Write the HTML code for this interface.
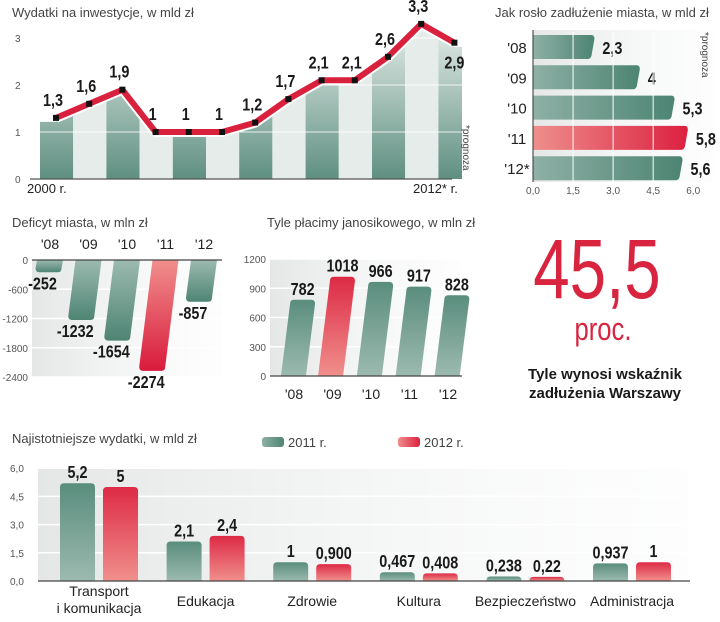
<!DOCTYPE html>
<html><head><meta charset="utf-8">
<style>
html,body{margin:0;padding:0;background:#fff;}
body{width:720px;height:622px;overflow:hidden;position:relative;font-family:"Liberation Sans",sans-serif;}
svg{position:absolute;left:0;top:0;}
text{font-family:"Liberation Sans",sans-serif;}
.t{font-size:13px;fill:#444;}
.tick{font-size:10px;fill:#555;}
.v{font-family:"Liberation Sans",sans-serif;font-weight:bold;font-size:18px;fill:#1a1a1a;}
.cat{font-size:14px;fill:#222;}
</style></head>
<body>
<svg id="s" width="720" height="622">
<defs>
<linearGradient id="gv" x1="0" y1="0" x2="0" y2="1"><stop offset="0" stop-color="#e9efed"/><stop offset="1" stop-color="#5e8f80"/></linearGradient>
<linearGradient id="gh" x1="0" y1="0" x2="1" y2="0"><stop offset="0" stop-color="#8fb0a6"/><stop offset="1" stop-color="#4c8472"/></linearGradient>
<linearGradient id="rh" x1="0" y1="0" x2="1" y2="0"><stop offset="0" stop-color="#ee8f8c"/><stop offset="1" stop-color="#dc2040"/></linearGradient>
<linearGradient id="gb" x1="0" y1="0" x2="0" y2="1"><stop offset="0" stop-color="#5a8d7d"/><stop offset="1" stop-color="#9cbab0"/></linearGradient>
<linearGradient id="rb" x1="0" y1="0" x2="0" y2="1"><stop offset="0" stop-color="#dd2a45"/><stop offset="1" stop-color="#f0908c"/></linearGradient>
<linearGradient id="gd" x1="0" y1="0" x2="0" y2="1"><stop offset="0" stop-color="#9cbab0"/><stop offset="1" stop-color="#4e8473"/></linearGradient>
<linearGradient id="rd" x1="0" y1="0" x2="0" y2="1"><stop offset="0" stop-color="#f08f8c"/><stop offset="1" stop-color="#d91a3c"/></linearGradient>
<linearGradient id="bg" x1="0" y1="0" x2="1" y2="0"><stop offset="0" stop-color="#e4e7e6"/><stop offset="1" stop-color="#f6f7f7" stop-opacity="0.2"/></linearGradient>
<clipPath id="areaClip"><polygon id="areaPoly" points=""/></clipPath>
</defs>
<g id="c1"></g><g id="c2"></g><g id="c3"></g><g id="c4"></g><g id="c5"></g>
<text transform="translate(597,298) scale(0.78,1)" text-anchor="middle" font-size="84" fill="#d9243f">45,5</text>
<text transform="translate(603,340) scale(0.8,1)" text-anchor="middle" font-size="32" fill="#d9243f">proc.</text>
<text x="605" y="379" text-anchor="middle" font-size="15" font-weight="bold" fill="#1a1a1a">Tyle wynosi wskaźnik</text>
<text x="605" y="398" text-anchor="middle" font-size="15" font-weight="bold" fill="#1a1a1a">zadłużenia Warszawy</text>
</svg>
<script>
const NS='http://www.w3.org/2000/svg';
function mk(p,tag,a,txt){const e=document.createElementNS(NS,tag);for(const k in a)e.setAttribute(k,a[k]);if(txt!==undefined)e.textContent=txt;p.appendChild(e);return e;}
function vt(p,x,y,anchor,txt,size){return mk(p,'text',{transform:`translate(${x},${y}) scale(0.8,1)`,'text-anchor':anchor,class:'v','font-size':size||18},txt);}

// Chart 1 data
const invValues=[1.3,1.6,1.9,1,1,1,1.2,1.7,2.1,2.1,2.6,3.3,2.9];
const invLabels=['1,3','1,6','1,9','1','1','1','1,2','1,7','2,1','2,1','2,6','3,3','2,9'];
const invTicks=[0,1,2,3];
// Chart 2 data
const debtCats=["'08","'09","'10","'11","'12*"];
const debtValues=[2.3,4,5.3,5.8,5.6];
const debtLabels=['2,3','4','5,3','5,8','5,6'];
const debtTicks=[0,1.5,3,4.5,6];
const debtTickLabels=['0,0','1,5','3,0','4,5','6,0'];
// Chart 3 data
const defCats=["'08","'09","'10","'11","'12"];
const defValues=[-252,-1232,-1654,-2274,-857];
const defTicks=[0,-600,-1200,-1800,-2400];
// Chart 4 data
const janCats=["'08","'09","'10","'11","'12"];
const janValues=[782,1018,966,917,828];
const janTicks=[0,300,600,900,1200];
// Chart 5 data
const expCats=[['Transport','i komunikacja'],['Edukacja'],['Zdrowie'],['Kultura'],['Bezpieczeństwo'],['Administracja']];
const exp2011=[5.2,2.1,1,0.467,0.238,0.937];
const exp2012=[5,2.4,0.9,0.408,0.22,1];
const exp2011Labels=['5,2','2,1','1','0,467','0,238','0,937'];
const exp2012Labels=['5','2,4','0,900','0,408','0,22','1'];
const expTicks=[0,1.5,3,4.5,6];
const expTickLabels=['0,0','1,5','3,0','4,5','6,0'];

// ---- Chart 1
(function(){
const g=document.getElementById('c1');
const x=i=>56+i*33.2, y=v=>179-v*47;
let t=mk(g,'text',{x:12,y:17,class:'t'},'Wydatki na inwestycje, w mld zł');


const pts=invValues.map((v,i)=>[x(i),y(v)]);
const poly=[[40,179],[40,y(invValues[0])+4],...pts.map(p=>[p[0],p[1]+4]),[462,y(invValues[12])+4],[462,179]];
document.getElementById('areaPoly').setAttribute('points',poly.map(p=>p.join(',')).join(' '));
const ag=mk(g,'g',{'clip-path':'url(#areaClip)'});
for(let i=0;i<13;i++){
  const r=mk(ag,'rect',{x:40+i*33.2,y:20,width:33.2,height:160,fill:i%2==0?'url(#gv)':'#e6ecea'});
  
  
}
invTicks.forEach(v=>{
  if(v>0){const l=mk(g,'line',{x1:40,x2:462,y1:y(v),y2:y(v),stroke:'#fff','stroke-width':1,opacity:0.8});
  }
  const tt=mk(g,'text',{x:15,y:y(v)+4,class:'tick'},String(v));
  
});
const ax=mk(g,'line',{x1:30,x2:452,y1:179,y2:179,stroke:'#555','stroke-width':1.2});

const ps=pts.map(p=>p.join(',')).join(' ');
const w=mk(g,'polyline',{points:ps,fill:'none',stroke:'#fff','stroke-width':10,'stroke-linejoin':'round'});

const l=mk(g,'polyline',{points:ps,fill:'none',stroke:'#d9203d','stroke-width':6,'stroke-linejoin':'round'});

pts.forEach((p,i)=>{
  const m=mk(g,'rect',{x:p[0]-3,y:p[1]-3,width:6,height:6,fill:'#111'});
  
  const ly=i==12?p[1]+26:p[1]-12;
  const lb=vt(g,p[0]+(i==12?0:-3),ly,'middle',invLabels[i],19);
  
});
t=mk(g,'text',{x:27,y:193,'font-size':13,fill:'#222'},'2000 r.');
t=mk(g,'text',{x:413,y:193,'font-size':13,fill:'#222'},'2012* r.');
t=mk(g,'text',{x:0,y:0,'font-size':10,fill:'#444',transform:'translate(463,125) rotate(90)'},'*prognoza');
})();

// ---- Chart 2
(function(){
const g=document.getElementById('c2');
const x=v=>533+v*26.7, yt=i=>35+i*30.3, h=24;
let t=mk(g,'text',{x:495,y:17,class:'t'},'Jak rosło zadłużenie miasta, w mld zł');

const bgr=mk(g,'rect',{x:533,y:30,width:180,height:152,fill:'url(#bg)'});

debtValues.forEach((v,i)=>{
  const y0=yt(i), x1=x(v);
  const b=mk(g,'path',{d:`M533,${y0} H${x1-3} Q${x1},${y0} ${x1},${y0+4} L${x1-3},${y0+h-3} Q${x1-4},${y0+h} ${x1-7},${y0+h} H533 Z`,fill:i==3?'url(#rh)':'url(#gh)'});
  
  const c=mk(g,'text',{x:517,y:y0+18,'text-anchor':'middle','font-size':15,fill:'#222'},debtCats[i]);
  
  const lb=vt(g,x1+8,y0+19,'start',debtLabels[i],19);
  
});
debtTicks.forEach((v,i)=>{
  if(v>0&&v<6){const l=mk(g,'line',{x1:x(v),x2:x(v),y1:32,y2:182,stroke:'#fff','stroke-width':1});
  }
  const tt=mk(g,'text',{x:x(v),y:194,'text-anchor':'middle',class:'tick'},debtTickLabels[i]);
  
});
const ax=mk(g,'line',{x1:533,x2:533,y1:30,y2:182,stroke:'#333','stroke-width':1});

t=mk(g,'text',{x:0,y:0,'font-size':10,fill:'#444',transform:'translate(702,32) rotate(90)'},'*prognoza');
})();

// ---- Chart 3
(function(){
const g=document.getElementById('c3');
const y=v=>260-v*(117/2400), xc=i=>50+i*38.5, w=26;
let t=mk(g,'text',{x:12,y:227,class:'t'},'Deficyt miasta, w mln zł');

const bgr=mk(g,'rect',{x:32,y:260,width:190,height:117,fill:'url(#bg)'});

defTicks.forEach(v=>{
  if(v<0){const l=mk(g,'line',{x1:32,x2:222,y1:y(v),y2:y(v),stroke:'#fff','stroke-width':1.5});
  }
  const tt=mk(g,'text',{x:28,y:y(v)+4,'text-anchor':'end',class:'tick'},String(v));
  
});
defValues.forEach((v,i)=>{
  const cx=xc(i), yb=y(v), hgt=yb-260, s=hgt*0.12;
  const b=mk(g,'path',{d:`M${cx-w/2},260 H${cx+w/2} L${cx+w/2-s},${yb-4} Q${cx+w/2-s},${yb} ${cx+w/2-s-4},${yb} H${cx-w/2-s+4} Q${cx-w/2-s},${yb} ${cx-w/2-s},${yb-4} Z`,fill:i==3?'url(#rd)':'url(#gd)'});
  
  const c=mk(g,'text',{x:cx,y:249,'text-anchor':'middle','font-size':14,fill:'#222'},defCats[i]);
  
  const lb=vt(g,cx-s-6,yb+17,'middle',String(v),19);
  
});
const ax=mk(g,'line',{x1:32,x2:222,y1:260,y2:260,stroke:'#444','stroke-width':1.2});

})();

// ---- Chart 4
(function(){
const g=document.getElementById('c4');
const y=v=>376-v*(117/1200), xc=i=>298+i*38.5, w=25;
let t=mk(g,'text',{x:267,y:227,class:'t'},'Tyle płacimy janosikowego, w mln zł');

const bgr=mk(g,'rect',{x:270,y:259,width:190,height:117,fill:'url(#bg)'});

janTicks.forEach(v=>{
  if(v>0){const l=mk(g,'line',{x1:270,x2:460,y1:y(v),y2:y(v),stroke:'#fff','stroke-width':1.5});
  }
  const tt=mk(g,'text',{x:266,y:y(v)+4,'text-anchor':'end',class:'tick'},String(v));
  
});
janValues.forEach((v,i)=>{
  const cx=xc(i), yt=y(v), s=(376-yt)*0.06;
  const b=mk(g,'path',{d:`M${cx-w/2-s},376 L${cx-w/2+s},${yt+4} Q${cx-w/2+s},${yt} ${cx-w/2+s+4},${yt} H${cx+w/2+s-4} Q${cx+w/2+s},${yt} ${cx+w/2+s},${yt+4} L${cx+w/2-s},376 Z`,fill:i==1?'url(#rb)':'url(#gb)'});
  
  const lb=vt(g,cx+s,yt-5,'middle',String(v),19);
  
  const c=mk(g,'text',{x:cx-4,y:399,'text-anchor':'middle','font-size':14,fill:'#222'},janCats[i]);
  
});
const ax=mk(g,'line',{x1:270,x2:462,y1:376,y2:376,stroke:'#444','stroke-width':1.2});

})();

// ---- Chart 5
(function(){
const g=document.getElementById('c5');
const y=v=>581-v*18.8, gx=i=>60+i*106.6, w=35, off=43;
let t=mk(g,'text',{x:12,y:443,class:'t'},'Najistotniejsze wydatki, w mld zł');

let r=mk(g,'rect',{x:262,y:437,width:22,height:10,rx:3,fill:'url(#gh)'});
t=mk(g,'text',{x:288,y:447,'font-size':13,fill:'#444'},'2011 r.');
r=mk(g,'rect',{x:398,y:437,width:22,height:10,rx:3,fill:'url(#rh)'});
t=mk(g,'text',{x:424,y:447,'font-size':13,fill:'#444'},'2012 r.');
const bgr=mk(g,'rect',{x:38,y:468,width:650,height:113,fill:'url(#bg)'});

expTicks.forEach((v,i)=>{
  if(v>0){const l=mk(g,'line',{x1:38,x2:688,y1:y(v),y2:y(v),stroke:'#fff','stroke-width':1.5});
  }
  const tt=mk(g,'text',{x:10,y:y(v)+4,class:'tick'},expTickLabels[i]);
  
});
function bar(x0,v,fill,name,label){
  const yt=y(v);
  const b=mk(g,'path',{d:`M${x0},581 V${yt+4} Q${x0},${yt} ${x0+4},${yt} H${x0+w-4} Q${x0+w},${yt} ${x0+w},${yt+4} V581 Z`,fill:fill});
  
  const lb=vt(g,x0+w/2,yt-5,'middle',label,19);
  
}
expCats.forEach((c,i)=>{
  bar(gx(i),exp2011[i],'url(#gb)','expense-bar-2011',exp2011Labels[i]);
  bar(gx(i)+off,exp2012[i],'url(#rb)','expense-bar-2012',exp2012Labels[i]);
  c.forEach((line,j)=>{
    const ct=mk(g,'text',{x:gx(i)+39,y:c.length>1?596+j*17:606,'text-anchor':'middle',class:'cat'},line);
    
  });
});
const ax=mk(g,'line',{x1:38,x2:690,y1:581,y2:581,stroke:'#444','stroke-width':1.2});

})();
</script>
</body></html>
